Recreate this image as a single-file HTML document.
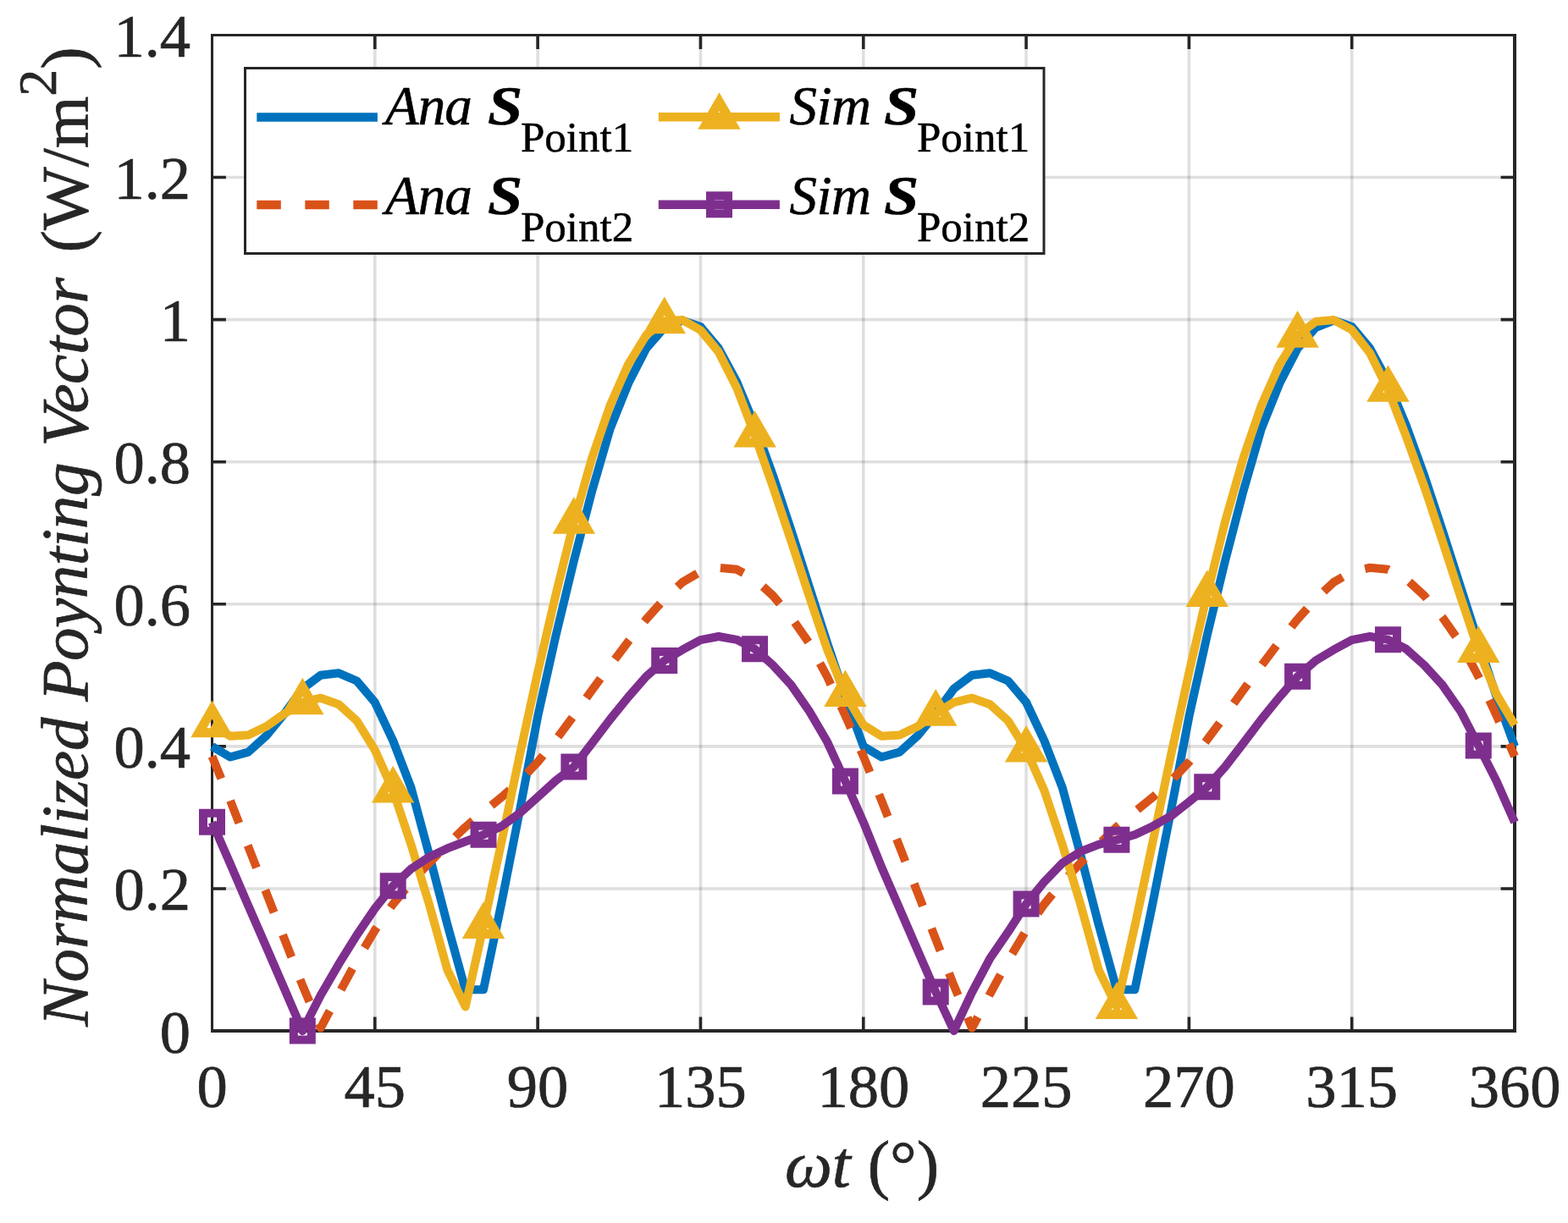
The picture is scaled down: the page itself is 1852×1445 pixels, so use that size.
<!DOCTYPE html><html><head><meta charset="utf-8"><title>Normalized Poynting Vector</title><style>html,body{margin:0;padding:0;background:#fff;overflow:hidden}svg{display:block}</style></head><body>
<svg width="1852" height="1445" viewBox="0 0 1852 1445">
<rect width="1852" height="1445" fill="#fff"/>
<path d="M442.81,41.50V1218.00M635.12,41.50V1218.00M827.44,41.50V1218.00M1019.75,41.50V1218.00M1212.06,41.50V1218.00M1404.38,41.50V1218.00M1596.69,41.50V1218.00" stroke="#262626" stroke-opacity="0.15" stroke-width="3.6" fill="none"/>
<path d="M250.50,1049.93H1789.00M250.50,881.86H1789.00M250.50,713.79H1789.00M250.50,545.71H1789.00M250.50,377.64H1789.00M250.50,209.57H1789.00" stroke="#262626" stroke-opacity="0.15" stroke-width="3.6" fill="none"/>
<path d="M442.81,1218.00V1201.60M442.81,41.50V57.90M635.12,1218.00V1201.60M635.12,41.50V57.90M827.44,1218.00V1201.60M827.44,41.50V57.90M1019.75,1218.00V1201.60M1019.75,41.50V57.90M1212.06,1218.00V1201.60M1212.06,41.50V57.90M1404.38,1218.00V1201.60M1404.38,41.50V57.90M1596.69,1218.00V1201.60M1596.69,41.50V57.90M250.50,1049.93H266.90M1789.00,1049.93H1772.60M250.50,881.86H266.90M1789.00,881.86H1772.60M250.50,713.79H266.90M1789.00,713.79H1772.60M250.50,545.71H266.90M1789.00,545.71H1772.60M250.50,377.64H266.90M1789.00,377.64H1772.60M250.50,209.57H266.90M1789.00,209.57H1772.60" stroke="#262626" stroke-width="3.6" fill="none"/>
<path d="M249,40H1791V43H252V1216H1787V43H1791V1220H249Z" fill="#262626" fill-rule="evenodd"/>
<text x="250.5" y="1308.3" font-family="Liberation Serif, Times New Roman, serif" font-size="72.5" fill="#262626" stroke="#262626" stroke-width="0.7" text-anchor="middle">0</text>
<text x="442.8" y="1308.3" font-family="Liberation Serif, Times New Roman, serif" font-size="72.5" fill="#262626" stroke="#262626" stroke-width="0.7" text-anchor="middle">45</text>
<text x="635.1" y="1308.3" font-family="Liberation Serif, Times New Roman, serif" font-size="72.5" fill="#262626" stroke="#262626" stroke-width="0.7" text-anchor="middle">90</text>
<text x="827.4" y="1308.3" font-family="Liberation Serif, Times New Roman, serif" font-size="72.5" fill="#262626" stroke="#262626" stroke-width="0.7" text-anchor="middle">135</text>
<text x="1019.8" y="1308.3" font-family="Liberation Serif, Times New Roman, serif" font-size="72.5" fill="#262626" stroke="#262626" stroke-width="0.7" text-anchor="middle">180</text>
<text x="1212.1" y="1308.3" font-family="Liberation Serif, Times New Roman, serif" font-size="72.5" fill="#262626" stroke="#262626" stroke-width="0.7" text-anchor="middle">225</text>
<text x="1404.4" y="1308.3" font-family="Liberation Serif, Times New Roman, serif" font-size="72.5" fill="#262626" stroke="#262626" stroke-width="0.7" text-anchor="middle">270</text>
<text x="1596.7" y="1308.3" font-family="Liberation Serif, Times New Roman, serif" font-size="72.5" fill="#262626" stroke="#262626" stroke-width="0.7" text-anchor="middle">315</text>
<text x="1789.0" y="1308.3" font-family="Liberation Serif, Times New Roman, serif" font-size="72.5" fill="#262626" stroke="#262626" stroke-width="0.7" text-anchor="middle">360</text>
<text x="225" y="1243.5" font-family="Liberation Serif, Times New Roman, serif" font-size="72.5" fill="#262626" stroke="#262626" stroke-width="0.7" text-anchor="end">0</text>
<text x="225" y="1075.4" font-family="Liberation Serif, Times New Roman, serif" font-size="72.5" fill="#262626" stroke="#262626" stroke-width="0.7" text-anchor="end">0.2</text>
<text x="225" y="907.4" font-family="Liberation Serif, Times New Roman, serif" font-size="72.5" fill="#262626" stroke="#262626" stroke-width="0.7" text-anchor="end">0.4</text>
<text x="225" y="739.3" font-family="Liberation Serif, Times New Roman, serif" font-size="72.5" fill="#262626" stroke="#262626" stroke-width="0.7" text-anchor="end">0.6</text>
<text x="225" y="571.2" font-family="Liberation Serif, Times New Roman, serif" font-size="72.5" fill="#262626" stroke="#262626" stroke-width="0.7" text-anchor="end">0.8</text>
<text x="225" y="403.1" font-family="Liberation Serif, Times New Roman, serif" font-size="72.5" fill="#262626" stroke="#262626" stroke-width="0.7" text-anchor="end">1</text>
<text x="225" y="235.1" font-family="Liberation Serif, Times New Roman, serif" font-size="72.5" fill="#262626" stroke="#262626" stroke-width="0.7" text-anchor="end">1.2</text>
<text x="225" y="67.0" font-family="Liberation Serif, Times New Roman, serif" font-size="72.5" fill="#262626" stroke="#262626" stroke-width="0.7" text-anchor="end">1.4</text>
<text x="1018" y="1402" font-family="Liberation Serif, Times New Roman, serif" font-size="79.2" fill="#262626" stroke="#262626" stroke-width="0.7" text-anchor="middle"><tspan font-style="italic">ωt</tspan> (°)</text>
<text transform="translate(102.5,634) rotate(-90)" font-family="Liberation Serif, Times New Roman, serif" font-size="79.2" fill="#262626" stroke="#262626" stroke-width="0.7" text-anchor="middle"><tspan font-style="italic" letter-spacing="-0.5">Normalized Poynting Vector</tspan><tspan dx="30">(W/m</tspan><tspan font-size="64" dy="-37">2</tspan><tspan dy="37">)</tspan></text>
<g fill="none" stroke-width="10" stroke-linejoin="round" stroke-linecap="butt">
<path d="M250.5,881.9 L271.9,894.5 L293.2,888.6 L314.6,869.3 L336.0,843.2 L357.3,813.8 L378.7,797.8 L400.1,795.3 L421.4,804.5 L442.8,829.8 L464.2,875.1 L485.5,930.6 L506.9,1009.6 L528.3,1091.9 L549.7,1169.3 L571.0,1169.3 L592.4,1066.7 L613.8,958.1 L635.1,846.7 L656.5,751.0 L677.9,662.3 L699.2,580.3 L720.6,506.7 L742.0,453.3 L763.3,411.6 L784.7,387.0 L806.1,378.6 L827.4,386.0 L848.8,411.5 L870.2,451.2 L891.5,502.7 L912.9,561.7 L934.3,626.1 L955.6,692.8 L977.0,759.6 L998.4,823.0 L1019.8,881.9 L1041.1,894.5 L1062.5,888.6 L1083.9,869.3 L1105.2,843.2 L1126.6,813.8 L1148.0,797.8 L1169.3,795.3 L1190.7,804.5 L1212.1,829.8 L1233.4,875.1 L1254.8,930.6 L1276.2,1009.6 L1297.5,1091.9 L1318.9,1169.3 L1340.3,1169.3 L1361.6,1066.7 L1383.0,958.1 L1404.4,846.7 L1425.7,751.0 L1447.1,662.3 L1468.5,580.3 L1489.8,506.7 L1511.2,453.3 L1532.6,411.6 L1554.0,387.0 L1575.3,378.6 L1596.7,386.0 L1618.1,411.5 L1639.4,451.2 L1660.8,502.7 L1682.2,561.7 L1703.5,626.1 L1724.9,692.8 L1746.3,759.6 L1767.6,823.0 L1789.0,881.9" stroke="#0072BD"/>
<path d="M250.5,893.6 L271.9,945.7 L293.2,1000.3 L314.6,1055.0 L336.0,1109.6 L357.3,1164.2 L378.7,1214.6 L400.1,1174.3 L421.4,1135.0 L442.8,1099.1 L464.2,1068.2 L485.5,1042.4 L506.9,1019.7 L528.3,997.8 L549.7,977.2 L571.0,959.2 L592.4,941.9 L613.8,923.0 L635.1,900.3 L656.5,874.1 L677.9,845.3 L699.2,815.3 L720.6,786.5 L742.0,758.1 L763.3,731.6 L784.7,707.7 L806.1,687.9 L827.4,675.5 L848.8,670.7 L870.2,672.8 L891.5,684.1 L912.9,703.7 L934.3,729.2 L955.6,759.6 L977.0,799.5 L998.4,845.5 L1019.8,893.6 L1041.1,945.7 L1062.5,1000.3 L1083.9,1055.0 L1105.2,1109.6 L1126.6,1164.2 L1148.0,1214.6 L1169.3,1174.3 L1190.7,1135.0 L1212.1,1099.1 L1233.4,1068.2 L1254.8,1042.4 L1276.2,1019.7 L1297.5,997.8 L1318.9,977.2 L1340.3,959.2 L1361.6,941.9 L1383.0,923.0 L1404.4,900.3 L1425.7,874.1 L1447.1,845.3 L1468.5,815.3 L1489.8,786.5 L1511.2,758.1 L1532.6,731.6 L1554.0,707.7 L1575.3,687.9 L1596.7,675.5 L1618.1,670.7 L1639.4,672.8 L1660.8,684.1 L1682.2,703.7 L1703.5,729.2 L1724.9,759.6 L1746.3,799.5 L1767.6,845.5 L1789.0,893.6" stroke="#D95319" stroke-dasharray="28.35,28.35"/>
<path d="M250.5,856.6 L271.9,869.7 L293.2,868.6 L314.6,858.3 L336.0,843.2 L357.3,829.8 L378.7,824.7 L400.1,832.3 L421.4,851.6 L442.8,886.1 L464.2,934.0 L485.5,997.8 L506.9,1068.4 L528.3,1145.7 L549.7,1189.4 L571.0,1094.5 L592.4,994.5 L613.8,892.2 L635.1,794.5 L656.5,702.5 L677.9,616.1 L699.2,541.2 L720.6,479.1 L742.0,430.6 L763.3,395.8 L784.7,379.6 L806.1,378.1 L827.4,390.0 L848.8,415.9 L870.2,458.3 L891.5,514.0 L912.9,575.1 L934.3,638.8 L955.6,703.9 L977.0,767.2 L998.4,820.5 L1019.8,856.6 L1041.1,869.7 L1062.5,868.6 L1083.9,858.3 L1105.2,843.2 L1126.6,829.8 L1148.0,824.7 L1169.3,832.3 L1190.7,851.6 L1212.1,886.1 L1233.4,934.0 L1254.8,997.8 L1276.2,1068.4 L1297.5,1145.7 L1318.9,1189.4 L1340.3,1094.5 L1361.6,994.5 L1383.0,892.2 L1404.4,794.5 L1425.7,702.5 L1447.1,616.1 L1468.5,541.2 L1489.8,479.0 L1511.2,430.9 L1532.6,396.2 L1554.0,379.9 L1575.3,378.1 L1596.7,389.7 L1618.1,417.3 L1639.4,460.3 L1660.8,515.5 L1682.2,574.7 L1703.5,638.6 L1724.9,704.5 L1746.3,768.4 L1767.6,820.5 L1789.0,856.6" stroke="#EDB120"/>
</g>
<path d="M250.50,838.55L266.18,865.70L234.82,865.70ZM357.34,811.65L373.02,838.80L341.67,838.80ZM464.18,915.86L479.86,943.01L448.51,943.01ZM571.02,1076.37L586.70,1103.52L555.35,1103.52ZM677.86,597.99L693.54,625.14L662.19,625.14ZM784.70,361.51L800.38,388.66L769.03,388.66ZM891.54,495.94L907.22,523.09L875.87,523.09ZM998.38,802.41L1014.06,829.56L982.71,829.56ZM1105.22,825.10L1120.90,852.25L1089.55,852.25ZM1212.06,867.96L1227.74,895.11L1196.39,895.11ZM1318.90,1171.33L1334.58,1198.48L1303.23,1198.48ZM1425.74,684.45L1441.42,711.60L1410.07,711.60ZM1532.58,378.08L1548.26,405.23L1516.91,405.23ZM1639.42,442.21L1655.10,469.36L1623.75,469.36ZM1746.26,750.31L1761.94,777.46L1730.59,777.46Z" fill="none" stroke="#EDB120" stroke-width="11" stroke-linejoin="miter" stroke-miterlimit="10"/>
<path d="M250.5,971.4 L271.9,1020.5 L293.2,1069.9 L314.6,1119.0 L336.0,1168.4 L357.3,1218.0 L378.7,1176.0 L400.1,1139.2 L421.4,1104.9 L442.8,1073.4 L464.2,1046.7 L485.5,1026.7 L506.9,1012.5 L528.3,1002.4 L549.7,994.3 L571.0,986.3 L592.4,976.2 L613.8,960.9 L635.1,941.7 L656.5,922.2 L677.9,905.9 L699.2,878.1 L720.6,850.0 L742.0,823.6 L763.3,799.3 L784.7,780.5 L806.1,767.7 L827.4,756.2 L848.8,752.0 L870.2,755.8 L891.5,766.7 L912.9,785.9 L934.3,809.1 L955.6,839.8 L977.0,876.3 L998.4,923.0 L1019.8,971.4 L1041.1,1024.2 L1062.5,1073.6 L1083.9,1123.0 L1105.2,1172.0 L1126.6,1218.0 L1148.0,1172.6 L1169.3,1132.3 L1190.7,1101.2 L1212.1,1068.0 L1233.4,1041.9 L1254.8,1019.7 L1276.2,1006.2 L1297.5,997.8 L1318.9,992.3 L1340.3,986.3 L1361.6,976.2 L1383.0,964.2 L1404.4,947.4 L1425.7,929.8 L1447.1,905.9 L1468.5,878.1 L1489.8,850.0 L1511.2,823.6 L1532.6,799.3 L1554.0,780.5 L1575.3,767.7 L1596.7,756.2 L1618.1,752.0 L1639.4,755.8 L1660.8,766.7 L1682.2,785.9 L1703.5,809.1 L1724.9,839.8 L1746.3,881.0 L1767.6,923.0 L1789.0,971.4" stroke="#7E2F8E" fill="none" stroke-width="10" stroke-linejoin="round"/>
<path d="M240.00,960.86h21v21h-21ZM346.84,1207.50h21v21h-21ZM453.68,1036.17h21v21h-21ZM560.52,975.77h21v21h-21ZM667.36,895.39h21v21h-21ZM774.20,770.01h21v21h-21ZM881.04,756.23h21v21h-21ZM987.88,912.53h21v21h-21ZM1094.72,1161.53h21v21h-21ZM1201.56,1057.50h21v21h-21ZM1308.40,981.78h21v21h-21ZM1415.24,919.26h21v21h-21ZM1522.08,788.83h21v21h-21ZM1628.92,745.30h21v21h-21ZM1735.76,870.52h21v21h-21Z" fill="none" stroke="#7E2F8E" stroke-width="10" stroke-linejoin="miter"/>
<rect x="289.5" y="80.5" width="943.5" height="219" fill="#fff" stroke="#262626" stroke-width="3"/>
<path d="M303.3,138.4H445.9" stroke="#0072BD" stroke-width="10.5"/>
<path d="M303.3,242.1H445.9" stroke="#D95319" stroke-width="10.5" stroke-dasharray="28.5,28.5"/>
<path d="M777.8,138.3H920.9" stroke="#EDB120" stroke-width="10.5"/>
<path d="M777.8,241.8H920.9" stroke="#7E2F8E" stroke-width="10.5"/>
<path d="M849.50,120.20L865.18,147.35L833.82,147.35Z" fill="none" stroke="#EDB120" stroke-width="11" stroke-linejoin="miter" stroke-miterlimit="10"/>
<rect x="839.0" y="231.3" width="21" height="21" fill="none" stroke="#7E2F8E" stroke-width="10"/>
<text x="455" y="146.7" font-family="Liberation Serif, Times New Roman, serif" font-size="65" fill="#000" stroke="#000" stroke-width="0.6" font-style="italic" letter-spacing="-1">Ana</text><text transform="translate(576,146.7) scale(1.14,1)" font-family="Liberation Serif, Times New Roman, serif" font-size="65" fill="#000" stroke="#000" stroke-width="0.6" font-style="italic" font-weight="bold">S</text><text x="615" y="178.7" font-family="Liberation Serif, Times New Roman, serif" font-size="51" fill="#000" stroke="#000" stroke-width="0.5">Point1</text>
<text x="455" y="252.8" font-family="Liberation Serif, Times New Roman, serif" font-size="65" fill="#000" stroke="#000" stroke-width="0.6" font-style="italic" letter-spacing="-1">Ana</text><text transform="translate(576,252.8) scale(1.14,1)" font-family="Liberation Serif, Times New Roman, serif" font-size="65" fill="#000" stroke="#000" stroke-width="0.6" font-style="italic" font-weight="bold">S</text><text x="615" y="284.8" font-family="Liberation Serif, Times New Roman, serif" font-size="51" fill="#000" stroke="#000" stroke-width="0.5">Point2</text>
<text x="932.5" y="146.7" font-family="Liberation Serif, Times New Roman, serif" font-size="65" fill="#000" stroke="#000" stroke-width="0.6" font-style="italic" letter-spacing="-0.5">Sim</text><text transform="translate(1044,146.7) scale(1.14,1)" font-family="Liberation Serif, Times New Roman, serif" font-size="65" fill="#000" stroke="#000" stroke-width="0.6" font-style="italic" font-weight="bold">S</text><text x="1083" y="178.7" font-family="Liberation Serif, Times New Roman, serif" font-size="51" fill="#000" stroke="#000" stroke-width="0.5">Point1</text>
<text x="932.5" y="252.8" font-family="Liberation Serif, Times New Roman, serif" font-size="65" fill="#000" stroke="#000" stroke-width="0.6" font-style="italic" letter-spacing="-0.5">Sim</text><text transform="translate(1044,252.8) scale(1.14,1)" font-family="Liberation Serif, Times New Roman, serif" font-size="65" fill="#000" stroke="#000" stroke-width="0.6" font-style="italic" font-weight="bold">S</text><text x="1083" y="284.8" font-family="Liberation Serif, Times New Roman, serif" font-size="51" fill="#000" stroke="#000" stroke-width="0.5">Point2</text>
</svg></body></html>
